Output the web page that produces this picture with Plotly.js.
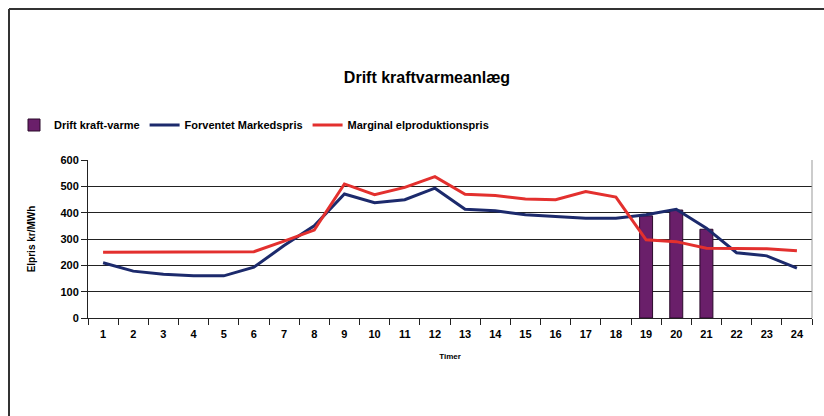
<!DOCTYPE html>
<html>
<head>
<meta charset="utf-8">
<script src="https://cdn.plot.ly/plotly-3.0.1.min.js"></script>
<style>
html,body{margin:0;padding:0;background:#fff;}
#chart{width:824px;height:416px;}
</style>
</head>
<body>
<div id="chart"></div>
<script>
const hours = ['1','2','3','4','5','6','7','8','9','10','11','12','13','14','15','16','17','18','19','20','21','22','23','24'];
const driftKraftVarme = [null,null,null,null,null,null,null,null,null,null,null,null,null,null,null,null,null,null,388,410,337,null,null,null];
const forventetMarkedspris = [210,178,166,160,160,193,275,350,471,438,449,493,413,407,392,385,379,379,392,413,341,248,236,189];
const marginalElproduktionspris = [250,250,250,250,250,252,292,334,509,468,496,537,470,465,452,449,480,459,297,290,265,265,263,255];
const yTicks = [0,100,200,300,400,500,600];

const W = 824, H = 416, L = 88, R = 12, T = 160, B = 98;
const pw = W - L - R, ph = H - T - B;
const px = v => (v - L) / pw;
const py = v => (H - B - v) / ph;

const font = {family: 'Liberation Sans, Arial, sans-serif', size: 11, color: '#000'};

const data = [
  {type: 'bar', name: 'Drift kraft-varme', x: hours, y: driftKraftVarme,
   marker: {color: '#6a1f6a', line: {color: '#2a0a2a', width: 1}}},
  {type: 'scatter', mode: 'lines', name: 'Forventet Markedspris', x: hours, y: forventetMarkedspris,
   line: {color: '#1c2a6c', width: 3}},
  {type: 'scatter', mode: 'lines', name: 'Marginal elproduktionspris', x: hours, y: marginalElproduktionspris,
   line: {color: '#e3302e', width: 3}}
];

const layout = {
  width: W, height: H,
  margin: {l: L, r: R, t: T, b: B, pad: 0},
  paper_bgcolor: '#fff', plot_bgcolor: '#fff',
  font: font,
  bargap: 0.57,
  showlegend: true,
  title: {text: '<b>Drift kraftvarmeanlæg</b>', font: {family: font.family, size: 16, color: '#000'},
          x: px(427), xanchor: 'center', xref: 'paper', y: 1 - 77 / H, yanchor: 'middle'},
  legend: {orientation: 'h', x: px(14), xanchor: 'left', y: py(125), yanchor: 'middle',
           font: {family: font.family, size: 11, color: '#000', weight: 'bold'},
           bgcolor: 'rgba(0,0,0,0)', itemwidth: 30, tracegroupgap: 0},
  xaxis: {type: 'category', range: [-0.5, 23.5], tickson: 'boundaries',
          ticks: 'outside', ticklen: 6, tickcolor: '#222', tickwidth: 1,
          showline: true, linecolor: '#222', linewidth: 1, showgrid: false,
          ticklabelstandoff: 6,
          tickfont: {family: font.family, size: 11, color: '#000', weight: 'bold'},
          title: {text: '<b>Timer</b>', font: {family: font.family, size: 8, color: '#000'}, standoff: 14}},
  yaxis: {range: [0, 600], tickvals: yTicks, ticktext: yTicks.map(String),
          ticks: 'outside', ticklen: 6, tickcolor: '#222', tickwidth: 1,
          showline: true, linecolor: '#222', linewidth: 1,
          showgrid: true, gridcolor: '#222', gridwidth: 1, zeroline: false,
          tickfont: {family: font.family, size: 11, color: '#000', weight: 'bold'},
          title: {text: '<b>Elpris kr/MWh</b>', font: {family: font.family, size: 10, color: '#000'}, standoff: 22}},
  shapes: [
    {type: 'line', xref: 'paper', yref: 'paper', x0: 1, x1: 1, y0: 0, y1: 1, line: {color: '#999', width: 1}},
    {type: 'line', xref: 'paper', yref: 'paper', x0: px(9), x1: px(830), y0: py(9), y1: py(9), line: {color: '#333', width: 2}},
    {type: 'line', xref: 'paper', yref: 'paper', x0: px(9), x1: px(9), y0: py(9), y1: py(420), line: {color: '#333', width: 2}}
  ]
};

Plotly.newPlot('chart', data, layout, {displayModeBar: false, staticPlot: true});
</script>
</body>
</html>
